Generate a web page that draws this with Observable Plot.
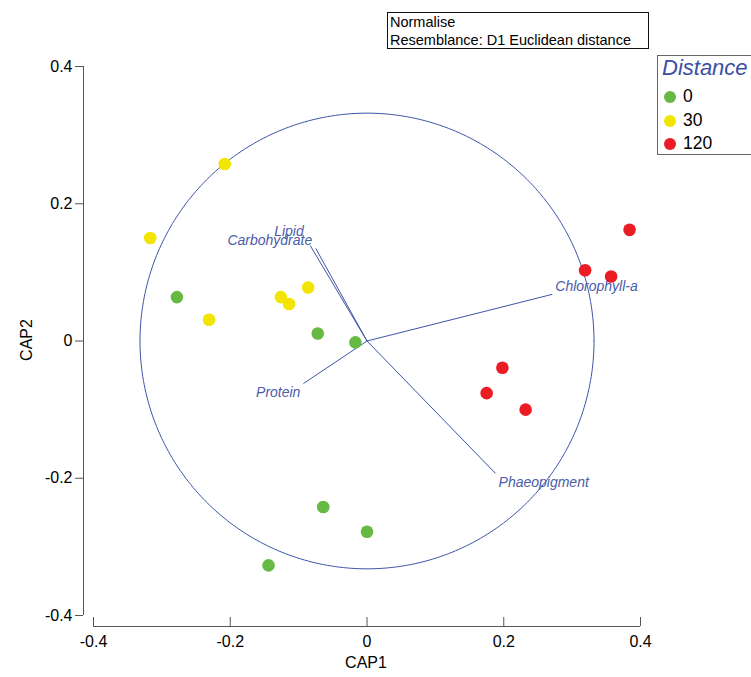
<!DOCTYPE html>
<html><head><meta charset="utf-8">
<script src="https://cdn.jsdelivr.net/npm/d3@7"></script>
<script src="https://cdn.jsdelivr.net/npm/@observablehq/plot@0.6"></script>
<style>
body{margin:0;background:#fff;font-family:"Liberation Sans",Arial,sans-serif;}
#wrap{position:relative;width:751px;height:677px;overflow:hidden;background:#fff;}
#chart{position:absolute;left:0;top:0;}
.note{position:absolute;left:387px;top:12px;width:262px;height:37px;border:1px solid #111;box-sizing:border-box;font-size:14.5px;line-height:18px;padding:0 2px;color:#000;}
.legend{position:absolute;left:657px;top:55px;width:120px;height:100px;border:1px solid #666;box-sizing:border-box;}
.legend .title{position:absolute;left:4px;top:-1px;font-size:22px;font-style:italic;color:#3a4ea6;}
.legend .item{position:absolute;left:25px;font-size:17.5px;color:#000;}
.legend .sw{position:absolute;left:6px;width:12px;height:12px;border-radius:50%;}
.axlab{position:absolute;font-size:16px;color:#000;}
</style>
</head><body>
<div id="wrap">
<div id="chart"></div>
<div class="note">Normalise<br>Resemblance: D1 Euclidean distance</div>
<div class="legend" id="legend"><div class="title">Distance</div></div>
<div class="axlab" style="left:366px;top:663px;transform:translate(-50%,-50%);">CAP1</div>
<div class="axlab" style="left:27px;top:340px;transform:translate(-50%,-50%) rotate(-90deg);">CAP2</div>
</div>
<script>
// Groups
const groups = ["0", "30", "120"];
const groupColors = ["#66b943", "#f2e500", "#ec1c24"];

// Sample scores
const cap1 = [-0.278, -0.072, -0.017, -0.064, 0.000, -0.144,
              -0.208, -0.317, -0.231, -0.126, -0.114, -0.086,
               0.384,  0.319,  0.357,  0.198,  0.175,  0.232];
const cap2 = [ 0.064,  0.011, -0.002, -0.242, -0.278, -0.327,
               0.258,  0.150,  0.031,  0.064,  0.054,  0.078,
               0.162,  0.103,  0.094, -0.039, -0.076, -0.100];
const distance = ["0","0","0","0","0","0",
                  "30","30","30","30","30","30",
                  "120","120","120","120","120","120"];

// Variable vectors
const vectorNames = ["Chlorophyll-a", "Lipid", "Carbohydrate", "Protein", "Phaeopigment"];
const vectorX = [0.271, -0.075, -0.083, -0.093, 0.188];
const vectorY = [0.068, 0.135, 0.139, -0.062, -0.193];

const circleRadius = 0.332;
const axisTicks = [-0.4, -0.2, 0, 0.2, 0.4];

const points = cap1.map((x, i) => ({x, y: cap2[i], g: distance[i]}));
const vectors = vectorNames.map((n, i) => ({name: n, x: vectorX[i], y: vectorY[i]}));
const circle = d3.range(0, 361).map(a => ({x: circleRadius * Math.cos(a * Math.PI / 180), y: circleRadius * Math.sin(a * Math.PI / 180)}));

const blue = "#3d55a8";
const labelBlue = "#4b5caa";
const fmt = d => String(d);

const labelPlacement = {
  "Chlorophyll-a": {textAnchor: "start", dx: 3, dy: -8},
  "Phaeopigment": {textAnchor: "start", dx: 3, dy: 9},
  "Protein": {textAnchor: "end", dx: -3, dy: 9},
  "Carbohydrate": {textAnchor: "end", dx: 2, dy: -5},
  "Lipid": {textAnchor: "end", dx: -12, dy: -17}
};

const labelMarks = vectorNames.map(n => Plot.text(vectors.filter(v => v.name === n), {
  x: "x", y: "y", text: "name", fill: labelBlue, fontStyle: "italic", fontSize: 14,
  fontFamily: "Liberation Sans, Arial, sans-serif", ...labelPlacement[n]
}));

const chart = Plot.plot({
  width: 751,
  height: 677,
  marginLeft: 83, insetLeft: 10,
  marginRight: 111,
  marginTop: 66,
  marginBottom: 51, insetBottom: 11,
  x: {domain: [-0.4, 0.4]},
  y: {domain: [-0.4, 0.4]},
  color: {domain: groups, range: groupColors},
  style: {fontFamily: "Liberation Sans, Arial, sans-serif", fontSize: "16px", color: "#000", background: "#fff"},
  marks: [
    Plot.axisY(axisTicks, {tickSize: 8, tickPadding: 3, tickFormat: fmt, label: null, stroke: "#555", fill: "#000", fontSize: 16}),
    Plot.axisX(axisTicks, {tickSize: -9, tickPadding: 18, tickFormat: fmt, label: null, stroke: "#555", fill: "#000", fontSize: 16}),
    Plot.ruleX([-0.4], {y1: -0.4, y2: 0.4, dx: -10, stroke: "#555"}),
    Plot.ruleY([-0.4], {x1: -0.4, x2: 0.4, dy: 11, stroke: "#555"}),
    Plot.line(circle, {x: "x", y: "y", stroke: blue, strokeWidth: 1, curve: "linear"}),
    Plot.link(vectors, {x1: 0, y1: 0, x2: "x", y2: "y", stroke: blue, strokeWidth: 1}),
    Plot.dot(points, {x: "x", y: "y", fill: "g", r: 6.3, stroke: null}),
    ...labelMarks
  ]
});
document.getElementById("chart").appendChild(chart);

// HTML legend
const lg = document.getElementById("legend");
groups.forEach((g, i) => {
  const top = 33 + i * 23.5;
  const sw = document.createElement("div");
  sw.className = "sw"; sw.style.top = (top + 2) + "px"; sw.style.background = groupColors[i];
  const t = document.createElement("div");
  t.className = "item"; t.style.top = (top - 3) + "px"; t.textContent = g;
  lg.appendChild(sw); lg.appendChild(t);
});
</script>
</body></html>
